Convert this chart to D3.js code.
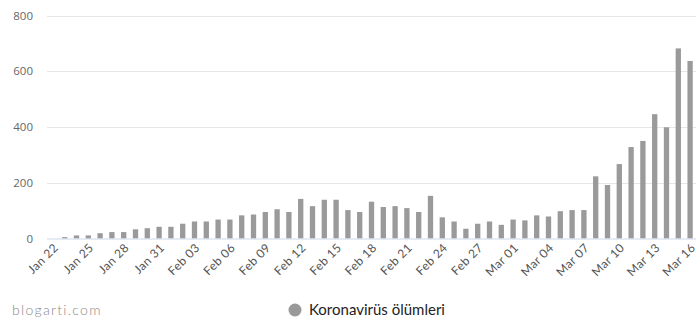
<!DOCTYPE html>
<html>
<head>
<meta charset="utf-8">
<script src="https://cdn.jsdelivr.net/npm/d3@7"></script>
<style>
  html, body { margin: 0; padding: 0; background: #fff; }
  svg { display: block; }
</style>
</head>
<body>
<svg id="chart" width="700" height="330"></svg>
<script>
const categories = [
  "Jan 22","Jan 23","Jan 24","Jan 25","Jan 26","Jan 27","Jan 28","Jan 29","Jan 30","Jan 31",
  "Feb 01","Feb 02","Feb 03","Feb 04","Feb 05","Feb 06","Feb 07","Feb 08","Feb 09","Feb 10",
  "Feb 11","Feb 12","Feb 13","Feb 14","Feb 15","Feb 16","Feb 17","Feb 18","Feb 19","Feb 20",
  "Feb 21","Feb 22","Feb 23","Feb 24","Feb 25","Feb 26","Feb 27","Feb 28","Feb 29","Mar 01",
  "Mar 02","Mar 03","Mar 04","Mar 05","Mar 06","Mar 07","Mar 08","Mar 09","Mar 10","Mar 11",
  "Mar 12","Mar 13","Mar 14","Mar 15","Mar 16"
];
const deaths = [
  0, 5, 11, 11, 19, 23, 23, 33, 37, 42,
  42, 53, 61, 61, 68, 68, 83, 86, 95, 105,
  95, 142, 116, 139, 139, 102, 95, 132, 113, 116,
  109, 95, 153, 76, 61, 35, 53, 61, 49, 68,
  65, 83, 79, 98, 102, 102, 223, 192, 267, 328,
  350, 446, 399, 682, 637
];
const yTicks = [0, 200, 400, 600, 800];
const xTickLabels = categories.filter((d, i) => i % 3 === 0);
const seriesName = "Koronavirüs ölümleri";
const creditText = "blogarti.com";

(function () {
const svg = d3.select("#chart");
const mLeft = 47, mRight = 696, mTop = 15.5, mBottom = 238.5;

const x = d3.scaleBand().domain(categories).range([mLeft, mRight]).paddingInner(0.55).paddingOuter(0.275);
const y = d3.scaleLinear().domain([0, 800]).range([mBottom, mTop]);

// gridlines
svg.append("g").selectAll("line").data(yTicks.filter(d => d > 0)).join("line")
  .attr("x1", mLeft).attr("x2", mRight)
  .attr("y1", d => Math.round(y(d)) + 0.5).attr("y2", d => Math.round(y(d)) + 0.5)
  .attr("stroke", "#e6e6e6").attr("stroke-width", 1);

// y axis labels
const yAxis = d3.axisLeft(y).tickValues(yTicks).tickSize(0).tickPadding(14);
const gy = svg.append("g").attr("transform", `translate(${mLeft},0)`).call(yAxis);
gy.select(".domain").remove();
gy.selectAll("text").attr("font-family", "'Open Sans', sans-serif").attr("font-size", 11.5).attr("fill", "#666");

// bars
svg.append("g").selectAll("rect").data(deaths).join("rect")
  .attr("x", (d, i) => x(categories[i]))
  .attr("width", x.bandwidth())
  .attr("y", d => y(d))
  .attr("height", d => y(0) - y(d))
  .attr("fill", "#9a9a9a");

// x axis
const xAxis = d3.axisBottom(x).tickValues(xTickLabels).tickSize(0).tickPadding(0);
const gx = svg.append("g").attr("transform", `translate(0,${mBottom})`).call(xAxis);
gx.select(".domain").attr("stroke", "#ccd6eb").attr("d", `M${mLeft},0.5H${mRight}`);
gx.selectAll("text")
  .attr("font-family", "Lato, sans-serif").attr("font-size", 12).attr("fill", "#555")
  .attr("letter-spacing", 0.4)
  .attr("text-anchor", "end")
  .attr("dy", 0)
  .attr("transform", "translate(6,10) rotate(-45)");

// legend
const legend = svg.append("g");
legend.append("circle").attr("cx", 295).attr("cy", 310).attr("r", 6.5).attr("fill", "#999");
legend.append("text").attr("x", 309).attr("y", 315)
  .attr("font-family", "Lato, sans-serif").attr("font-size", 15).attr("fill", "#222")
  .text(seriesName);

// credit
svg.append("text").attr("x", 12).attr("y", 315)
  .attr("font-family", "Lato, sans-serif").attr("font-size", 14).attr("font-weight", 300)
  .attr("letter-spacing", 1.3).attr("fill", "#888")
  .text(creditText);
})();
</script>
</body>
</html>
